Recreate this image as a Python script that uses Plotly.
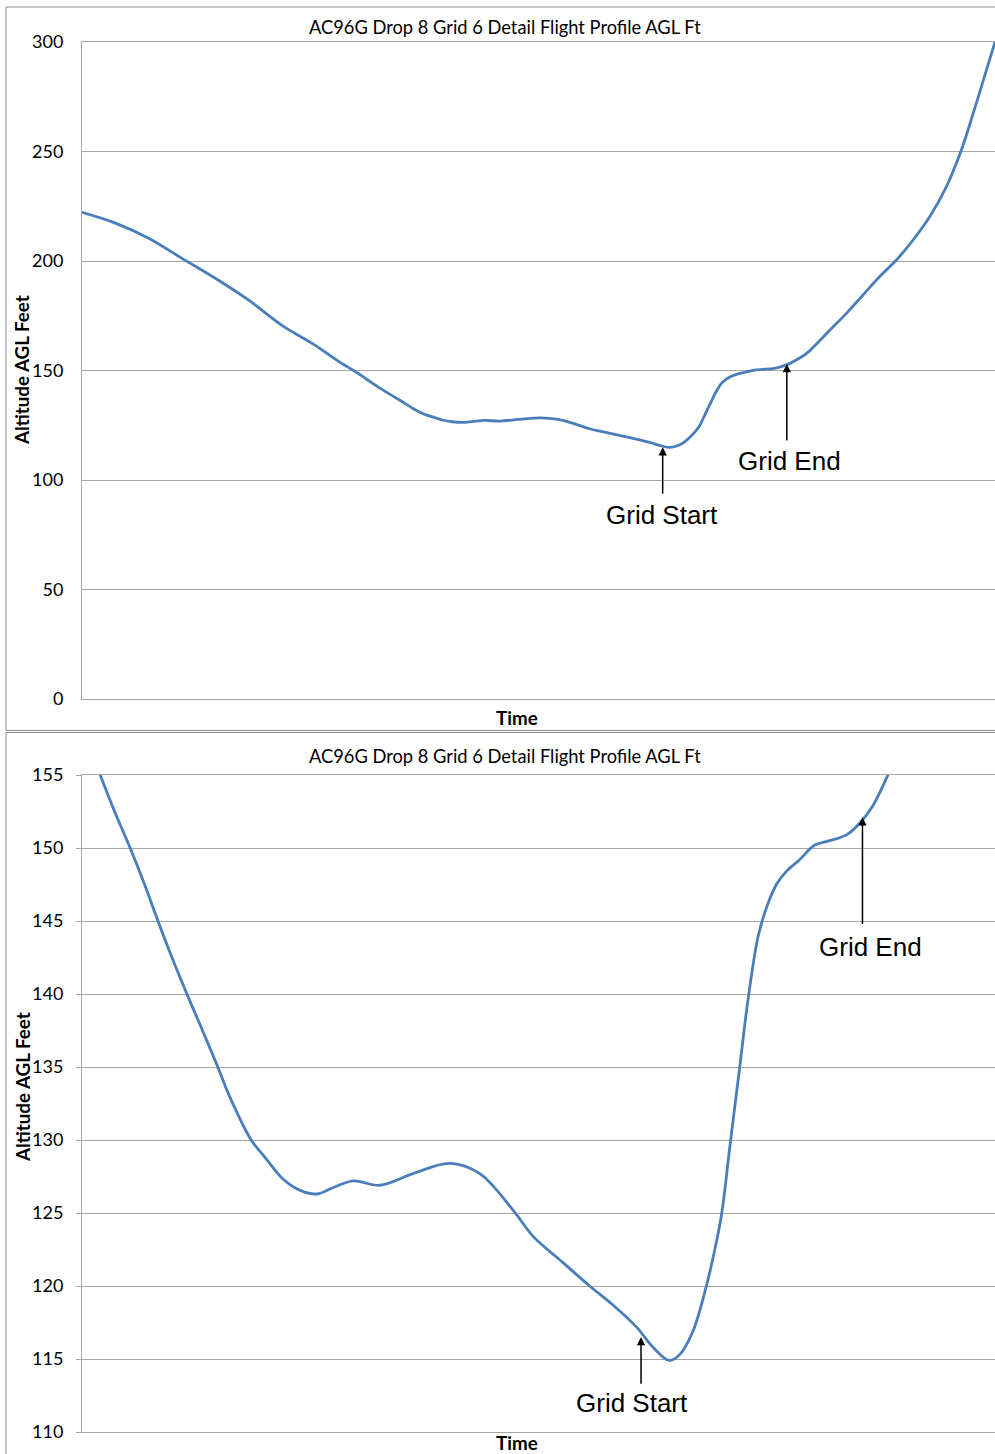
import plotly.graph_objects as go

# ---- data (time in arbitrary sample units, altitude AGL in feet) ----
time_s = [0, 3.65, 7.3, 10.95, 14.6, 18.26, 21.9, 25.55,
          27.82, 28.78, 29.74, 30.7, 31.52, 32.42, 33.38, 34.34, 35.36, 36.15,
          37.5, 38.4, 39.47, 40.54, 41.71, 42.88, 44.06, 45.75, 47.88, 50.24,
          52.16, 54.29, 55.58, 57.5, 59.21, 60.7, 62.2, 63.27, 64.32, 64.98,
          65.83, 66.69, 67.11, 67.65, 68.18, 68.83, 69.36, 70.0, 70.54, 71.18,
          71.82, 72.67, 73.64, 74.6, 75.67, 76.52, 77.37, 78.33,
          79.37, 81.93, 83.75, 85.57, 87.4, 89.23, 91.05, 92.88, 94.71, 95.8,
          96.35, 97.62, 98.72, 100]
altitude_ft = [222.2, 217.3, 210.4, 201.2, 192.1, 182.1, 170.6, 161.5,
               155.0, 152.4, 150.0, 147.4, 145.0, 142.5, 140.0, 137.6, 135.0, 132.9,
               130.0, 128.8, 127.4, 126.6, 126.3, 126.8, 127.2, 126.9, 127.7, 128.4,
               127.7, 125.2, 123.4, 121.6, 120.0, 118.7, 117.2, 115.8, 114.9, 115.3,
               116.9, 120.0, 121.9, 124.8, 129.4, 135.0, 139.6, 143.9, 145.9, 147.5,
               148.4, 149.2, 150.2, 150.5, 150.9, 151.7, 152.9, 155.0,
               157.8, 168.5, 176.2, 184.6, 193.0, 200.6, 209.7, 220.4, 234.2, 245.0,
               251.0, 267.5, 282.5, 300.0]

chart_title = "AC96G Drop 8 Grid 6 Detail Flight Profile AGL Ft"
y_title = "Altitude AGL Feet"
x_title = "Time"

top_y_ticks = [0, 50, 100, 150, 200, 250, 300]
bottom_y_ticks = [110, 115, 120, 125, 130, 135, 140, 145, 150, 155]

# markers: (label, time, arrow tip altitude, arrow tail altitude, text time, text altitude)
top_marks = [("Grid Start", 63.6, 115.0, 93.0, 63.5, 84.0),
             ("Grid End", 77.2, 153.0, 117.4, 77.5, 108.7)]
bottom_marks = [("Grid Start", 62.5, 116.5, 113.2, 61.9, 112.0),
                ("Grid End", 76.7, 152.1, 144.7, 77.2, 143.2)]

# ---- layout helpers ----
W, H = 995, 1454
def py(p):  # pixel row -> paper y
    return 1 - p / H
def px(p):
    return p / W

LINE = "#4a7ebb"
GRID = "#a6a6a6"
FONT = "Lato"

fig = go.Figure()
for xa, ya in [("x", "y"), ("x2", "y2")]:
    fig.add_trace(go.Scatter(x=time_s, y=altitude_ft, mode="lines",
                             line=dict(color=LINE, width=2.8, shape="spline", smoothing=1.0),
                             xaxis=xa, yaxis=ya, showlegend=False, hoverinfo="skip"))

xdom = [px(82), 1.0]
tickfont = dict(family=FONT, size=18, color="#000000")
fig.update_layout(
    width=W, height=H, margin=dict(l=0, r=0, t=0, b=0, autoexpand=False),
    paper_bgcolor="white", plot_bgcolor="white",
    font=dict(family=FONT, color="#000000"),
    xaxis=dict(domain=xdom, range=[0, 100], showgrid=False, showticklabels=False,
               showline=True, mirror=True, linecolor=GRID, linewidth=1, zeroline=False,
               ticks="", anchor="y"),
    yaxis=dict(domain=[py(699), py(42)], range=[0, 300], tickvals=top_y_ticks,
               showgrid=True, gridcolor=GRID, gridwidth=1, zeroline=False,
               showline=True, linecolor=GRID, linewidth=1, ticks="", anchor="x",
               tickfont=tickfont, ticklabelstandoff=14),
    xaxis2=dict(domain=xdom, range=[26.65, 85.2], showgrid=False, showticklabels=False,
                showline=True, mirror=True, linecolor=GRID, linewidth=1, zeroline=False,
                ticks="", anchor="y2"),
    yaxis2=dict(domain=[py(1432), py(775)], range=[110, 155], tickvals=bottom_y_ticks,
                showgrid=True, gridcolor=GRID, gridwidth=1, zeroline=False,
                showline=True, linecolor=GRID, linewidth=1, ticks="outside", ticklen=5,
                tickcolor=GRID, anchor="x2",
                tickfont=tickfont, ticklabelstandoff=9),
)

# chart area borders
fig.add_shape(type="rect", xref="paper", yref="paper", x0=px(6), x1=1.05,
              y0=py(730.5), y1=py(7), line=dict(color="#8c8c8c", width=1), layer="below")
fig.add_shape(type="rect", xref="paper", yref="paper", x0=px(6), x1=1.05,
              y0=py(1470), y1=py(732.5), line=dict(color="#8c8c8c", width=1), layer="below")

ann = []
for cy, ycen, tcy in [(27, 370, 717), (756, 1087, 1442)]:
    ann.append(dict(text=chart_title, xref="paper", yref="paper", x=px(505), y=py(cy),
                    xanchor="center", yanchor="middle", showarrow=False,
                    font=dict(family=FONT, size=18.3, color="#000000")))
    ann.append(dict(text="<b>" + y_title + "</b>", xref="paper", yref="paper", x=px(22), y=py(ycen),
                    xanchor="center", yanchor="middle", showarrow=False, textangle=-90,
                    font=dict(family=FONT, size=18.8, color="#000000")))
    ann.append(dict(text="<b>" + x_title + "</b>", xref="paper", yref="paper", x=px(517), y=py(tcy),
                    xanchor="center", yanchor="middle", showarrow=False,
                    font=dict(family=FONT, size=18.8, color="#000000")))

for marks, xr, yr in [(top_marks, "x", "y"), (bottom_marks, "x2", "y2")]:
    for label, t, tip, tail, tx, ty in marks:
        ann.append(dict(text="", x=t, y=tip, xref=xr, yref=yr, ax=t, ay=tail, axref=xr, ayref=yr,
                        showarrow=True, arrowhead=2, arrowsize=1.1, arrowwidth=1.5,
                        arrowcolor="#000000", standoff=0))
        ann.append(dict(text=label, x=tx, y=ty, xref=xr, yref=yr, showarrow=False,
                        xanchor="center", yanchor="middle",
                        font=dict(family="Liberation Sans", size=26, color="#000000")))
fig.update_layout(annotations=ann)

fig.write_html("out.html", config={"displayModeBar": False},
               post_script="document.body.style.margin='0';document.body.style.overflow='hidden';")
